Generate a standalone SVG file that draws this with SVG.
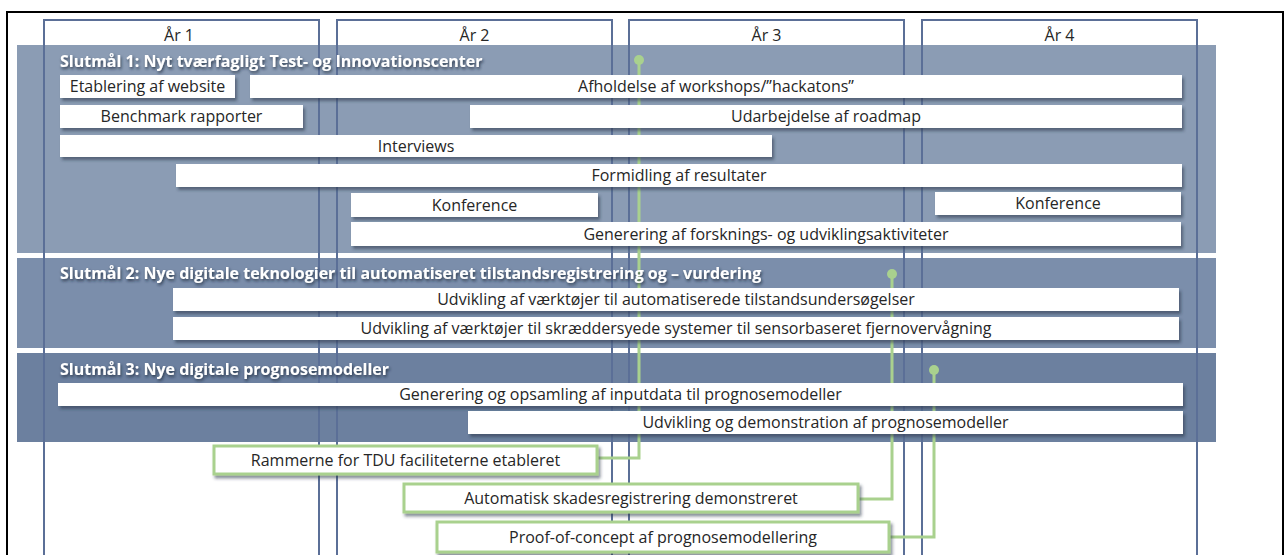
<svg xmlns="http://www.w3.org/2000/svg" width="1287" height="555" viewBox="0 0 1287 555">
<defs>
<filter id="sh" x="-5%" y="-30%" width="110%" height="180%">
<feDropShadow dx="2" dy="3" stdDeviation="1.5" flood-color="#2a3448" flood-opacity="0.55"/>
</filter>
<filter id="tsh" x="-5%" y="-40%" width="110%" height="200%">
<feDropShadow dx="1" dy="2" stdDeviation="1.6" flood-color="#1e2638" flood-opacity="0.8"/>
</filter>
<style>
.col{fill:none;stroke:#5b6f97;stroke-width:2}
.hdr{font-family:"Open Sans","Liberation Sans",sans-serif;font-size:16px;fill:#262626;text-anchor:middle}
.title{font-family:"Open Sans","Liberation Sans",sans-serif;font-size:16px;font-weight:bold;fill:#ffffff;filter:url(#tsh)}
.bar rect{fill:#ffffff;filter:url(#sh)}
.lbl{font-family:"Open Sans","Liberation Sans",sans-serif;font-size:16px;fill:#262626;text-anchor:middle}
.ms rect{fill:#ffffff;stroke:#a9d18e;stroke-width:3;filter:url(#sh)}
.conn{fill:none;stroke:#a9d18e;stroke-width:3}
.dot{fill:#a9d18e}
</style>
</defs>
<rect x="0" y="0" width="1287" height="555" fill="#ffffff"/>
<rect x="7" y="12" width="1276" height="560" fill="none" stroke="#000000" stroke-width="2"/>

<g id="bands">
<rect x="17" y="45" width="1199" height="208" fill="#8b9cb4"/>
<rect x="17" y="258" width="1199" height="90" fill="#7b8eab"/>
<rect x="17" y="353" width="1199" height="89" fill="#6c809f"/>
</g>

<g id="years">
<g id="year1"><rect class="col" x="44" y="20" width="275" height="545"/><text class="hdr" x="179" y="41">År 1</text></g>
<g id="year2"><rect class="col" x="337" y="20" width="275" height="545"/><text class="hdr" x="474.5" y="41">År 2</text></g>
<g id="year3"><rect class="col" x="629" y="20" width="275" height="545"/><text class="hdr" x="766.5" y="41">År 3</text></g>
<g id="year4"><rect class="col" x="922" y="20" width="275" height="545"/><text class="hdr" x="1059.5" y="41">År 4</text></g>
</g>

<g id="connectors">
<polyline class="conn" points="639,60 639,458 597,458"/>
<circle class="dot" cx="639" cy="60" r="5"/>
<polyline class="conn" points="892,274 892,499 858,499"/>
<circle class="dot" cx="892" cy="274" r="5"/>
<polyline class="conn" points="934,370 934,537 889,537"/>
<circle class="dot" cx="934" cy="370" r="5"/>
</g>

<g id="titles">
<text id="goal1" class="title" x="60" y="67">Slutmål 1: Nyt tværfagligt Test- og Innovationscenter</text>
<text id="goal2" class="title" x="60" y="279">Slutmål 2: Nye digitale teknologier til automatiseret tilstandsregistrering og – vurdering</text>
<text id="goal3" class="title" x="60" y="375">Slutmål 3: Nye digitale prognosemodeller</text>
</g>

<g id="bar-website" class="bar"><rect x="60" y="75" width="175" height="23"/><text class="lbl" x="147.5" y="92">Etablering af website</text></g>
<g id="bar-workshops" class="bar"><rect x="250" y="75" width="932" height="23"/><text class="lbl" x="716" y="92">Afholdelse af workshops/”hackatons”</text></g>
<g id="bar-benchmark" class="bar"><rect x="60" y="105" width="243" height="23"/><text class="lbl" x="181.5" y="122">Benchmark rapporter</text></g>
<g id="bar-roadmap" class="bar"><rect x="470" y="105" width="712" height="23"/><text class="lbl" x="826" y="122">Udarbejdelse af roadmap</text></g>
<g id="bar-interviews" class="bar"><rect x="60" y="135" width="712" height="22"/><text class="lbl" x="416" y="151.5">Interviews</text></g>
<g id="bar-formidling" class="bar"><rect x="176" y="164" width="1006" height="23"/><text class="lbl" x="679" y="181">Formidling af resultater</text></g>
<g id="bar-konference1" class="bar"><rect x="351" y="193" width="247" height="24"/><text class="lbl" x="474.5" y="210.5">Konference</text></g>
<g id="bar-konference2" class="bar"><rect x="935" y="192" width="246" height="23"/><text class="lbl" x="1058" y="209">Konference</text></g>
<g id="bar-generering" class="bar"><rect x="351" y="222" width="830" height="24"/><text class="lbl" x="766" y="239.5">Generering af forsknings- og udviklingsaktiviteter</text></g>

<g id="bar-tilstand" class="bar"><rect x="173" y="288" width="1006" height="23"/><text class="lbl" x="676" y="305">Udvikling af værktøjer til automatiserede tilstandsundersøgelser</text></g>
<g id="bar-sensor" class="bar"><rect x="173" y="317" width="1006" height="23"/><text class="lbl" x="676" y="334">Udvikling af værktøjer til skræddersyede systemer til sensorbaseret fjernovervågning</text></g>

<g id="bar-inputdata" class="bar"><rect x="58" y="383" width="1125" height="23"/><text class="lbl" x="620.5" y="400">Generering og opsamling af inputdata til prognosemodeller</text></g>
<g id="bar-prognose" class="bar"><rect x="468" y="411" width="715" height="23"/><text class="lbl" x="825.5" y="428">Udvikling og demonstration af prognosemodeller</text></g>

<g id="ms-rammer" class="ms"><rect x="214" y="446" width="383" height="28"/><text class="lbl" x="405.5" y="465.5">Rammerne for TDU faciliteterne etableret</text></g>
<g id="ms-skade" class="ms"><rect x="404" y="484" width="454" height="28"/><text class="lbl" x="631" y="503.5">Automatisk skadesregistrering demonstreret</text></g>
<g id="ms-proof" class="ms"><rect x="437" y="522" width="452" height="30"/><text class="lbl" x="663" y="542.5">Proof-of-concept af prognosemodellering</text></g>
</svg>
